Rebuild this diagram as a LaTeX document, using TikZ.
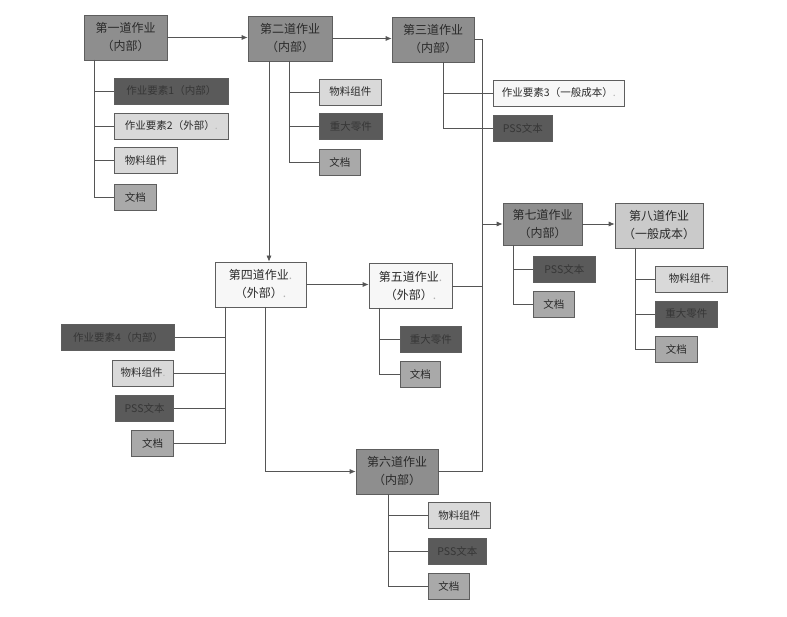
\documentclass[tikz,border=0pt]{standalone}
\usepackage{fontspec}
\usepackage{xcolor,tikz}
\usetikzlibrary{positioning,calc,arrows.meta}
\newfontfamily\cjk{Noto Sans CJK SC}
\definecolor{opMidFill}{HTML}{8E8E8E}
\definecolor{opLightFill}{HTML}{CACACA}
\definecolor{opWhiteFill}{HTML}{F7F7F7}
\definecolor{elDarkFill}{HTML}{5A5A5A}
\definecolor{elLightFill}{HTML}{D9D9D9}
\definecolor{elDocFill}{HTML}{A9A9A9}
\definecolor{boxLine}{HTML}{5E5E5E}
\definecolor{linkLine}{HTML}{555555}
\definecolor{boxText}{HTML}{2A2A2A}
\definecolor{hideText}{HTML}{363636}
\newcommand\parmark{\textcolor{gray!60}{.}}
\tikzset{
  op box/.style={
    draw=boxLine, line width=0.7pt, minimum height=45pt, inner sep=2pt,
    align=center, text=boxText, font=\cjk\fontsize{12}{18}\selectfont,
  },
  el box/.style={
    draw=boxLine, line width=0.7pt, minimum height=26pt, inner sep=3pt,
    anchor=west, text=boxText, font=\cjk\fontsize{10.5}{12}\selectfont,
  },
  el dark/.style={el box, fill=elDarkFill, text=hideText},
  el light/.style={el box, fill=elLightFill},
  el doc/.style={el box, fill=elDocFill},
  link/.style={draw=linkLine, line width=0.7pt},
  flow/.style={link, -{Latex[length=6pt, width=5pt]}},
}

\begin{document}
\begin{tikzpicture}[x=1pt, y=-1pt]

\useasboundingbox[fill=white] (0,0) rectangle (787,617);

% Operations
\node[op box, fill=opMidFill, minimum width=83pt] (op1) at (125.5,37.5) {第一道作业\\（内部）};
\node[op box, fill=opMidFill, minimum width=84pt] (op2) at (290,38.5) {第二道作业\\（内部）};
\node[op box, fill=opMidFill, minimum width=82pt] (op3) at (433,39.5) {第三道作业\\（内部）};
\node[op box, fill=opWhiteFill, minimum width=91pt] (op4) at (260.5,284.5) {第四道作业\parmark\\（外部）\parmark};
\node[op box, fill=opWhiteFill, minimum width=83pt] (op5) at (410.5,286) {第五道作业\parmark\\（外部）\parmark};
\node[op box, fill=opMidFill, minimum width=82pt] (op6) at (397,471.5) {第六道作业\\（内部）};
\node[op box, fill=opMidFill, minimum width=79pt, minimum height=42pt] (op7) at (542.5,224) {第七道作业\\（内部）};
\node[op box, fill=opLightFill, minimum width=88pt] (op8) at (659,225.5) {第八道作业\\（一般成本）};

% Elements of op1
\node[el dark, minimum width=114pt] (e1a) at (114,91) {作业要素1（内部）};
\node[el light, minimum width=114pt] (e1b) at (114,126) {作业要素2（外部）\parmark};
\node[el light, minimum width=63pt] (e1c) at (114,160.5) {物料组件};
\node[el doc, minimum width=42pt] (e1d) at (114,197) {文档};
\coordinate (t1) at (94,60);
\foreach \e in {e1a,e1b,e1c,e1d}
  \draw[link] (t1) |- (\e.west);

% Elements of op2
\node[el light, minimum width=62pt] (e2a) at (319,92) {物料组件};
\node[el dark, minimum width=63pt] (e2b) at (319,126.5) {重大零件};
\node[el doc, minimum width=41pt] (e2c) at (319,162.5) {文档};
\coordinate (t2) at (289,61);
\foreach \e in {e2a,e2b,e2c}
  \draw[link] (t2) |- (\e.west);

% Elements of op3
\node[el box, fill=opWhiteFill, minimum width=131pt] (e3a) at (493,93) {作业要素3（一般成本）\parmark};
\node[el dark, minimum width=59pt] (e3b) at (493,128) {PSS文本};
\coordinate (t3) at (443,62);
\foreach \e in {e3a,e3b}
  \draw[link] (t3) |- (\e.west);

% Elements of op4 (to the left)
\node[el dark, anchor=east, minimum width=113pt] (e4a) at (175,337.5) {作业要素4（内部）};
\node[el light, anchor=east, minimum width=61pt] (e4b) at (174,373) {物料组件\parmark};
\node[el dark, anchor=east, minimum width=58pt] (e4c) at (174,408.5) {PSS文本};
\node[el doc, anchor=east, minimum width=42pt] (e4d) at (174,443.5) {文档};
\coordinate (t4) at (225,307);
\foreach \e in {e4a,e4b,e4c,e4d}
  \draw[link] (t4) |- (\e.east);

% Elements of op5
\node[el dark, minimum width=61pt] (e5a) at (400,339.5) {重大零件};
\node[el doc, minimum width=40pt] (e5b) at (400,374.5) {文档};
\coordinate (t5) at (379,308);
\foreach \e in {e5a,e5b}
  \draw[link] (t5) |- (\e.west);

% Elements of op6
\node[el light, minimum width=62pt] (e6a) at (428,515.5) {物料组件};
\node[el dark, minimum width=58pt] (e6b) at (428,551) {PSS文本};
\node[el doc, minimum width=41pt] (e6c) at (428,586) {文档};
\coordinate (t6) at (388,494);
\foreach \e in {e6a,e6b,e6c}
  \draw[link] (t6) |- (\e.west);

% Elements of op7
\node[el dark, minimum width=62pt] (e7a) at (533,269.5) {PSS文本};
\node[el doc, minimum width=41pt] (e7b) at (533,304.5) {文档};
\coordinate (t7) at (513,245);
\foreach \e in {e7a,e7b}
  \draw[link] (t7) |- (\e.west);

% Elements of op8
\node[el light, minimum width=72pt] (e8a) at (655,279) {物料组件\parmark};
\node[el dark, minimum width=62pt] (e8b) at (655,314) {重大零件};
\node[el doc, minimum width=42pt] (e8c) at (655,349.5) {文档};
\coordinate (t8) at (635,248);
\foreach \e in {e8a,e8b,e8c}
  \draw[link] (t8) |- (\e.west);

% Flow between operations
\draw[flow] (op1.east) -- (op1.east -| op2.west);
\draw[flow] (op2.east) -- (op2.east -| op3.west);
\coordinate (d2) at (269,61);
\draw[flow] (d2) -- (d2 |- op4.north);
\draw[flow] (op4.east) -- (op4.east -| op5.west);
\coordinate (d4) at (265,307);
\draw[flow] (d4) |- (op6.west);

% Merge bus into op7
\coordinate (bus) at (482,0);
\draw[link] (op3.east) -| (bus |- op6.east) -- (op6.east);
\draw[link] (op5.east) -- (op5.east -| bus);
\draw[flow] (op7.west -| bus) -- (op7.west);
\draw[flow] (op7.east) -- (op7.east -| op8.west);

\end{tikzpicture}
\end{document}
